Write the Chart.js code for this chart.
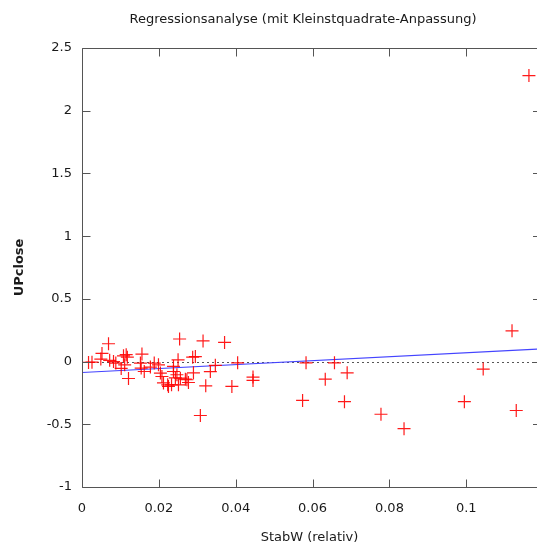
<!DOCTYPE html>
<html>
<head>
<meta charset="utf-8">
<script src="https://cdn.jsdelivr.net/npm/chart.js@4/dist/chart.umd.min.js"></script>
<style>
html,body{margin:0;padding:0;overflow:hidden;background:#fff;}
#wrap{width:537px;height:545px;}
</style>
</head>
<body>
<div id="wrap"><canvas id="c" width="537" height="545"></canvas></div>
<script>
const chartTitle = "Regressionsanalyse (mit Kleinstquadrate-Anpassung)";
const xLabel = "StabW (relativ)";
const yLabel = "UPclose";
const xTicks = [0, 0.02, 0.04, 0.06, 0.08, 0.1];
const xTickLabels = ["0", "0.02", "0.04", "0.06", "0.08", "0.1"];
const yTicks = [-1, -0.5, 0, 0.5, 1, 1.5, 2, 2.5];
const yTickLabels = ["-1", "-0.5", "0", "0.5", "1", "1.5", "2", "2.5"];
const xMin = 0, xMax = 0.1184, yMin = -1, yMax = 2.5;

const stabW = [
  0.1163, 0.1119, 0.1130, 0.1044, 0.0995, 0.0838, 0.0778, 0.0690, 0.0683, 0.0657,
  0.0633, 0.0583, 0.0574, 0.0315, 0.0371, 0.0288, 0.0347, 0.0405, 0.0290, 0.0334,
  0.0269, 0.0277, 0.0322, 0.0390, 0.0445, 0.0445, 0.0308, 0.0254, 0.0250, 0.0238,
  0.0243, 0.0251, 0.0233, 0.0273, 0.0069, 0.0052, 0.0017, 0.0026, 0.0082, 0.0088,
  0.0108, 0.0115, 0.0111, 0.0102, 0.0121, 0.0156, 0.0152, 0.0162, 0.0154, 0.0178,
  0.0188, 0.0199, 0.0208, 0.0212, 0.0223, 0.0204, 0.0295, 0.0225, 0.0238, 0.0247,
  0.0256, 0.0049, 0.0072, 0.0118
];
const upClose = [
  2.28, 0.245, -0.39, -0.06, -0.32, -0.535, -0.42, -0.09, -0.32, -0.01,
  -0.14, -0.01, -0.31, 0.165, 0.153, 0.035, -0.03, -0.01, -0.09, -0.08,
  -0.14, -0.167, -0.193, -0.198, -0.124, -0.15, -0.43, 0.18, 0.014, -0.079,
  -0.13, -0.185, -0.185, -0.145, 0.142, 0.065, -0.007, -0.005, 0.0, -0.012,
  0.046, 0.055, -0.026, -0.055, -0.135, 0.06, -0.012, -0.079, -0.052, -0.044,
  -0.012, -0.026, -0.119, -0.17, -0.185, -0.092, 0.04, -0.198, -0.039, -0.105,
  -0.132, 0.02, 0.01, 0.035
];
const fitX = [0, 0.1184];
const fitY = [-0.087, 0.100];

const FONT = "'DejaVu Sans', Verdana, sans-serif";
const TXT = "#1a1a1a";

const framePlugin = {
  id: 'frame',
  beforeDatasetsDraw(chart) {
    const {ctx, chartArea: a, scales: {y}} = chart;
    ctx.save();
    ctx.strokeStyle = '#555';
    ctx.lineWidth = 1;
    ctx.setLineDash([2, 3]);
    const y0 = Math.round(y.getPixelForValue(0)) + 0.5;
    ctx.beginPath();
    ctx.moveTo(a.left, y0);
    ctx.lineTo(a.right, y0);
    ctx.stroke();
    ctx.setLineDash([]);
    ctx.restore();
  },
  afterDatasetsDraw(chart) {
    const {ctx, chartArea: a, scales: {x, y}} = chart;
    ctx.save();
    ctx.strokeStyle = '#555';
    ctx.lineWidth = 1;
    const L = Math.round(a.left) + 0.5, R = a.right;
    const T = Math.round(a.top) + 0.5, B = Math.round(a.bottom) + 0.5;
    ctx.beginPath();
    ctx.moveTo(R, T); ctx.lineTo(L, T); ctx.lineTo(L, B); ctx.lineTo(R, B);
    ctx.stroke();
    const tl = 8;
    ctx.beginPath();
    xTicks.forEach(v => {
      const px = Math.round(x.getPixelForValue(v)) + 0.5;
      ctx.moveTo(px, B); ctx.lineTo(px, B - tl);
      ctx.moveTo(px, T); ctx.lineTo(px, T + tl);
    });
    yTicks.forEach(v => {
      const py = Math.round(y.getPixelForValue(v)) + 0.5;
      ctx.moveTo(L, py); ctx.lineTo(L + tl, py);
      ctx.moveTo(R, py); ctx.lineTo(R - 4, py);
    });
    ctx.stroke();
    ctx.restore();
  },
  afterDraw(chart) {
    const {ctx} = chart;
    ctx.save();
    ctx.fillStyle = TXT;
    ctx.font = "13px " + FONT;
    ctx.textAlign = 'center';
    ctx.textBaseline = 'middle';
    ctx.fillText(chartTitle, 303, 20);
    ctx.restore();
  }
};

new Chart(document.getElementById('c'), {
  data: {
    datasets: [
      {
        type: 'scatter',
        label: 'UPclose',
        data: stabW.map((v, i) => ({x: v, y: upClose[i]})),
        pointStyle: 'cross',
        pointRadius: 6.5,
        pointHoverRadius: 6.5,
        borderColor: 'rgba(255,0,0,0.9)',
        backgroundColor: 'rgba(255,0,0,0.9)',
        borderWidth: 1.2,
        order: 1
      },
      {
        type: 'line',
        label: 'fit',
        data: fitX.map((v, i) => ({x: v, y: fitY[i]})),
        borderColor: '#4444ff',
        borderWidth: 1.2,
        pointRadius: 0,
        fill: false,
        order: 2
      }
    ]
  },
  options: {
    responsive: false,
    animation: false,
    events: [],
    layout: {autoPadding: false, padding: {top: 48, right: 0, left: 0, bottom: 0}},
    plugins: {legend: {display: false}, tooltip: {enabled: false}, title: {display: false}},
    scales: {
      x: {
        type: 'linear', min: xMin, max: xMax,
        grid: {display: false, drawTicks: false},
        border: {display: false},
        afterBuildTicks(s) { s.ticks = xTicks.map(v => ({value: v})); },
        afterFit(s) { s.height = 58; s.paddingLeft = 0; s.paddingRight = 0; },
        ticks: {
          autoSkip: false, maxRotation: 0, padding: 14,
          color: TXT, font: {family: FONT, size: 13},
          callback: (v) => xTickLabels[xTicks.indexOf(v)] ?? ''
        },
        title: {display: true, text: xLabel, color: TXT, font: {family: FONT, size: 13}, padding: {top: 0, bottom: 0}}
      },
      y: {
        type: 'linear', min: yMin, max: yMax,
        grid: {display: false, drawTicks: false},
        border: {display: false},
        afterBuildTicks(s) { s.ticks = yTicks.map(v => ({value: v})); },
        afterFit(s) { s.width = 82; s.paddingTop = 0; s.paddingBottom = 0; },
        ticks: {
          autoSkip: false, padding: 10,
          color: TXT, font: {family: FONT, size: 13},
          callback: (v) => yTickLabels[yTicks.indexOf(v)] ?? ''
        },
        title: {display: true, text: yLabel, color: TXT, font: {family: FONT, size: 13, weight: 'bold'}, padding: {top: 12, bottom: 0}}
      }
    }
  },
  plugins: [framePlugin]
});
</script>
</body>
</html>
